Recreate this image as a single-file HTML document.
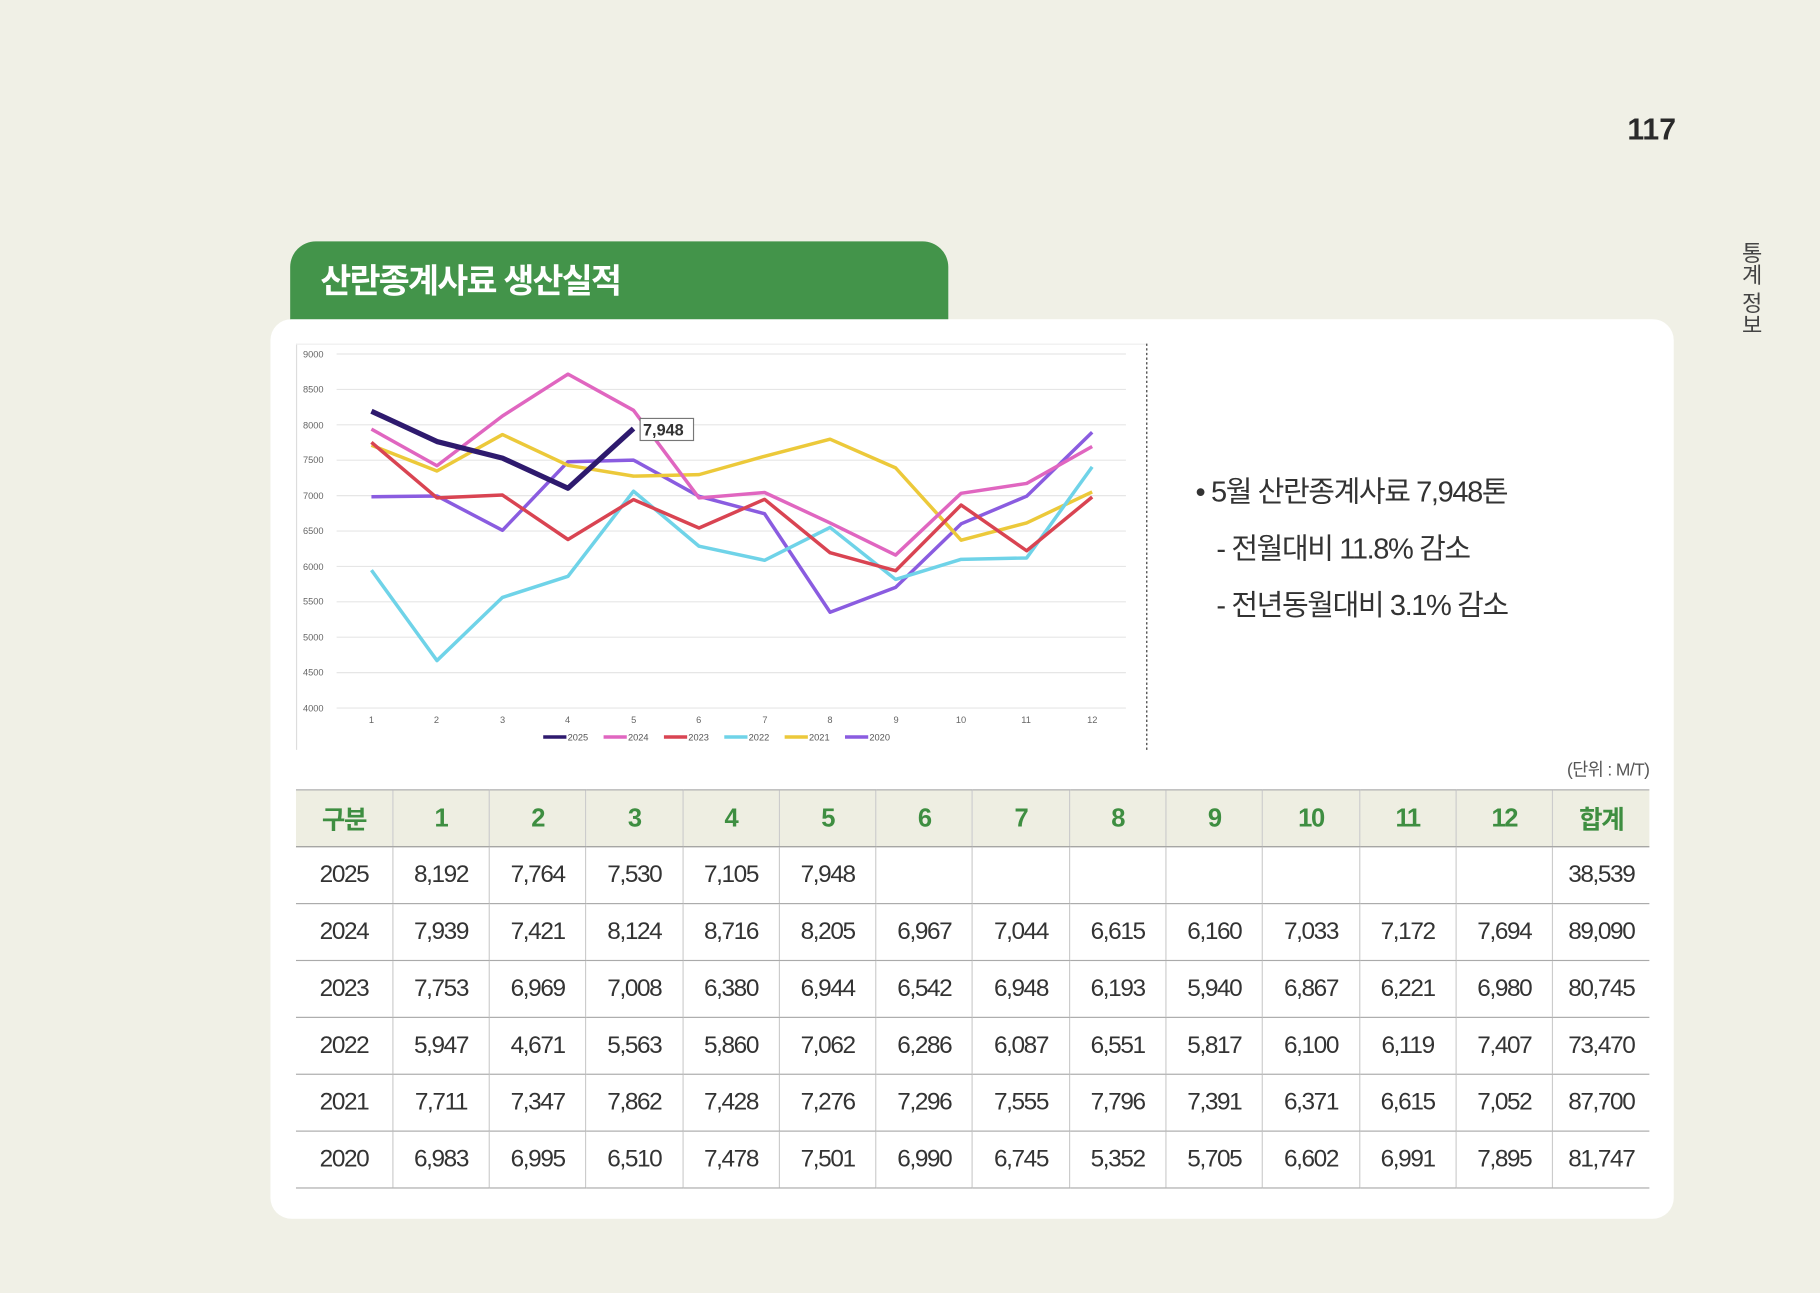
<!DOCTYPE html>
<html><head><meta charset="utf-8"><style>
html,body{margin:0;padding:0;background:#f0f0e6;overflow:hidden}
#w{position:absolute;left:0;top:0;width:1568px;height:1114px;transform:scale(1.16071);transform-origin:0 0;font-family:"Liberation Sans","Noto Sans CJK KR",sans-serif;color:#333}
.a{position:absolute}
table{border-collapse:collapse;table-layout:fixed}
td{height:48px;text-align:center;font-size:21px;letter-spacing:-1.2px;border-bottom:1.5px solid #aaa;border-left:1px solid #ccc;padding:0;color:#333}
td:first-child{border-left:none}
tr.h td{background:#eeeee2;color:#3e8e41;font-weight:bold;font-size:22px;border-top:1.5px solid #aaa;border-bottom:1.5px solid #999}
</style></head><body><div id="w">
<div class="a" style="left:1402px;top:96px;font-size:26px;font-weight:bold;color:#2a2a2a">117</div>
<div class="a" style="left:1494px;top:208px;writing-mode:vertical-rl;font-size:19px;color:#444;letter-spacing:0px">통계 정보</div>
<div class="a" style="left:250px;top:208px;width:567px;height:80px;background:#43944a;border-radius:22px 22px 0 0"></div>
<div class="a" style="left:276px;top:219px;font-size:29px;font-weight:bold;color:#fff;letter-spacing:-1.5px">산란종계사료 생산실적</div>
<div class="a" style="left:233px;top:275px;width:1209px;height:775px;background:#fff;border-radius:18px"></div>
<svg class="a" style="left:0;top:0" width="1568" height="1114" font-family="Liberation Sans, sans-serif">
<line x1="255.5" y1="296" x2="255.5" y2="646" stroke="#ddd"/>
<line x1="255" y1="296.5" x2="988" y2="296.5" stroke="#eee"/>
<line x1="988" y1="296" x2="988" y2="646" stroke="#333" stroke-dasharray="2,2"/>
<g stroke="#e6e6e6" stroke-width="1">
<line x1="290" x2="970" y1="305" y2="305"/><line x1="290" x2="970" y1="335.5" y2="335.5"/><line x1="290" x2="970" y1="366" y2="366"/><line x1="290" x2="970" y1="396.5" y2="396.5"/><line x1="290" x2="970" y1="427" y2="427"/><line x1="290" x2="970" y1="457.5" y2="457.5"/><line x1="290" x2="970" y1="488" y2="488"/><line x1="290" x2="970" y1="518.5" y2="518.5"/><line x1="290" x2="970" y1="549" y2="549"/><line x1="290" x2="970" y1="579.5" y2="579.5"/><line x1="290" x2="970" y1="610" y2="610"/>
</g>
<g font-size="8" fill="#666" text-anchor="start">
<text x="261" y="308">9000</text><text x="261" y="338">8500</text><text x="261" y="369">8000</text><text x="261" y="399">7500</text><text x="261" y="430">7000</text><text x="261" y="460">6500</text><text x="261" y="491">6000</text><text x="261" y="521">5500</text><text x="261" y="552">5000</text><text x="261" y="582">4500</text><text x="261" y="613">4000</text>
</g>
<g font-size="8" fill="#666" text-anchor="middle">
<text x="320" y="623">1</text><text x="376" y="623">2</text><text x="433" y="623">3</text><text x="489" y="623">4</text><text x="546" y="623">5</text><text x="602" y="623">6</text><text x="659" y="623">7</text><text x="715" y="623">8</text><text x="772" y="623">9</text><text x="828" y="623">10</text><text x="884" y="623">11</text><text x="941" y="623">12</text>
</g>
<g fill="none" stroke-width="3" stroke-linejoin="round">
<polyline stroke="#8a5ce0" points="320,428 376.45,427.3 432.9,456.9 489.35,397.8 545.8,396.4 602.25,427.6 658.7,442.6 715.15,527.5 771.6,506 828.05,451.3 884.5,427.5 940.95,372.4"/>
<polyline stroke="#ecc93a" points="320,383.6 376.45,405.8 432.9,374.4 489.35,400.9 545.8,410.2 602.25,408.9 658.7,393.1 715.15,378.4 771.6,403.1 828.05,465.4 884.5,450.5 940.95,423.8"/>
<polyline stroke="#6fd3e8" points="320,491.2 376.45,569.1 432.9,514.7 489.35,496.5 545.8,423.2 602.25,470.6 658.7,482.7 715.15,454.4 771.6,499.2 828.05,481.9 884.5,480.7 940.95,402.2"/>
<polyline stroke="#d94452" points="320,381.1 376.45,428.9 432.9,426.5 489.35,464.8 545.8,430.4 602.25,454.9 658.7,430.2 715.15,476.2 771.6,491.7 828.05,435.1 884.5,474.5 940.95,428.2"/>
<polyline stroke="#e066c0" points="320,369.7 376.45,401.3 432.9,358.4 489.35,322.3 545.8,353.5 602.25,429 658.7,424.3 715.15,450.5 771.6,478.2 828.05,425 884.5,416.5 940.95,384.7"/>
<polyline stroke="#2e1a6e" stroke-width="4.5" points="320,354.3 376.45,380.4 432.9,394.7 489.35,420.6 545.8,369.2"/>
</g>
<rect x="551.5" y="360.5" width="46" height="19" fill="#fff" stroke="#777"/>
<text x="554" y="375" font-size="14" font-weight="bold" fill="#333">7,948</text>
<g font-size="8" fill="#555" stroke-width="3">
<line x1="468" x2="488" y1="635" y2="635" stroke="#2e1a6e"/><text x="489" y="638">2025</text>
<line x1="520" x2="540" y1="635" y2="635" stroke="#e066c0"/><text x="541" y="638">2024</text>
<line x1="572" x2="592" y1="635" y2="635" stroke="#d94452"/><text x="593" y="638">2023</text>
<line x1="624" x2="644" y1="635" y2="635" stroke="#6fd3e8"/><text x="645" y="638">2022</text>
<line x1="676" x2="696" y1="635" y2="635" stroke="#ecc93a"/><text x="697" y="638">2021</text>
<line x1="728" x2="748" y1="635" y2="635" stroke="#8a5ce0"/><text x="749" y="638">2020</text>
</g>
</svg>
<div class="a" style="left:1030px;top:400px;font-size:25px;letter-spacing:-1.2px;color:#333;line-height:49px">• 5월 산란종계사료 7,948톤<br><span style="padding-left:18px">- 전월대비 11.8% 감소</span><br><span style="padding-left:18px">- 전년동월대비 3.1% 감소</span></div>
<div class="a" style="left:1320px;top:652px;width:101px;text-align:right;font-size:15px;color:#555;letter-spacing:-0.5px">(단위 : M/T)</div>
<table class="a" style="left:255px;top:680px;width:1166px">
<tr class="h"><td>구분</td><td>1</td><td>2</td><td>3</td><td>4</td><td>5</td><td>6</td><td>7</td><td>8</td><td>9</td><td>10</td><td>11</td><td>12</td><td>합계</td></tr>
<tr><td>2025</td><td>8,192</td><td>7,764</td><td>7,530</td><td>7,105</td><td>7,948</td><td></td><td></td><td></td><td></td><td></td><td></td><td></td><td>38,539</td></tr>
<tr><td>2024</td><td>7,939</td><td>7,421</td><td>8,124</td><td>8,716</td><td>8,205</td><td>6,967</td><td>7,044</td><td>6,615</td><td>6,160</td><td>7,033</td><td>7,172</td><td>7,694</td><td>89,090</td></tr>
<tr><td>2023</td><td>7,753</td><td>6,969</td><td>7,008</td><td>6,380</td><td>6,944</td><td>6,542</td><td>6,948</td><td>6,193</td><td>5,940</td><td>6,867</td><td>6,221</td><td>6,980</td><td>80,745</td></tr>
<tr><td>2022</td><td>5,947</td><td>4,671</td><td>5,563</td><td>5,860</td><td>7,062</td><td>6,286</td><td>6,087</td><td>6,551</td><td>5,817</td><td>6,100</td><td>6,119</td><td>7,407</td><td>73,470</td></tr>
<tr><td>2021</td><td>7,711</td><td>7,347</td><td>7,862</td><td>7,428</td><td>7,276</td><td>7,296</td><td>7,555</td><td>7,796</td><td>7,391</td><td>6,371</td><td>6,615</td><td>7,052</td><td>87,700</td></tr>
<tr><td>2020</td><td>6,983</td><td>6,995</td><td>6,510</td><td>7,478</td><td>7,501</td><td>6,990</td><td>6,745</td><td>5,352</td><td>5,705</td><td>6,602</td><td>6,991</td><td>7,895</td><td>81,747</td></tr>
</table>
</div></body></html>
